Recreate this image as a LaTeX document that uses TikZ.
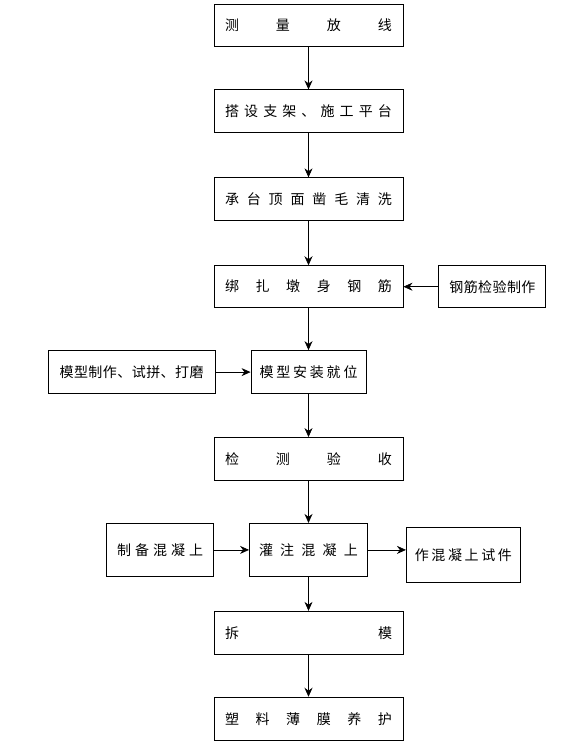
\documentclass[tikz,border=0pt]{standalone}
\usepackage{fontspec}
\newfontfamily\cjk{Noto Sans CJK SC}
\usetikzlibrary{positioning,arrows.meta}
\newcommand{\gap}{\hfill}

\begin{document}
\begin{tikzpicture}[x=1pt,y=1pt,font=\cjk\fontsize{14}{16}\selectfont,node distance=43pt,>={Stealth[length=9pt,width=8pt]}]
  % pier construction flow chart
  \tikzset{stepbox/.style={draw,line width=0.9pt,minimum width=189pt,minimum height=43pt,inner sep=0pt},
           sidebox/.style={draw,line width=0.9pt,minimum height=43pt,inner sep=0pt},
           flow/.style={->,line width=0.7pt}}
  \useasboundingbox (0,0) rectangle (585,-749);
  % main column
  \node[stepbox,minimum height=42pt] (survey) at (308.5,-25) {\makebox[167pt]{测\gap 量\gap 放\gap 线}};
  \node[stepbox,below=43pt of survey] (frame) {\makebox[167pt]{搭\gap 设\gap 支\gap 架\gap 、\gap 施\gap 工\gap 平\gap 台}};
  \node[stepbox,below=44pt of frame] (clean) {\makebox[167pt]{承\gap 台\gap 顶\gap 面\gap 凿\gap 毛\gap 清\gap 洗}};
  \node[stepbox,below=44pt of clean,minimum height=42pt] (rebar) {\makebox[167pt]{绑\gap 扎\gap 墩\gap 身\gap 钢\gap 筋}};
  \node[stepbox,below=42pt of rebar,minimum width=115pt] (mould) {\makebox[98pt]{模\gap 型\gap 安\gap 装\gap 就\gap 位}};
  \node[stepbox,below=43pt of mould] (check) {\makebox[167pt]{检\gap 测\gap 验\gap 收}};
  \node[stepbox,below=42pt of check,minimum width=118pt,minimum height=53pt] (pour) {\makebox[99pt]{灌\gap 注\gap 混\gap 凝\gap 上}};
  \node[stepbox,below=34pt of pour] (strip) {\makebox[167pt]{拆\gap 模}};
  \node[stepbox,below=42pt of strip] (cure) {\makebox[167pt]{塑\gap 料\gap 薄\gap 膜\gap 养\gap 护}};

  % side steps
  \node[sidebox,minimum width=107pt,minimum height=42pt,right=35pt of rebar] (rebarprep) {\makebox[86pt]{钢\gap 筋\gap 检\gap 验\gap 制\gap 作}};
  \node[sidebox,minimum width=167pt,left=35pt of mould] (mouldprep) {\makebox[144pt]{模\gap 型\gap 制\gap 作\gap 、\gap 试\gap 拼\gap 、\gap 打\gap 磨}};
  \node[sidebox,minimum width=107pt,minimum height=53pt,left=35pt of pour] (mix) {\makebox[86pt]{制\gap 备\gap 混\gap 凝\gap 上}};
  \node[sidebox,minimum width=114pt,minimum height=55pt,right=38pt of pour,yshift=-5pt] (sample) {\makebox[97pt]{作\gap 混\gap 凝\gap 上\gap 试\gap 件}};

  % connectors
  \foreach \a/\b in {survey/frame,frame/clean,clean/rebar,rebar/mould,mould/check,check/pour,pour/strip,strip/cure}
    \draw[flow] (\a) -- (\b);
  \draw[flow] (rebarprep) -- (rebar);
  \draw[flow] (mouldprep) -- (mould);
  \draw[flow] (mix) -- (pour);
  \draw[flow] (pour.east) -- (pour.east -| sample.west);
\end{tikzpicture}
\end{document}
